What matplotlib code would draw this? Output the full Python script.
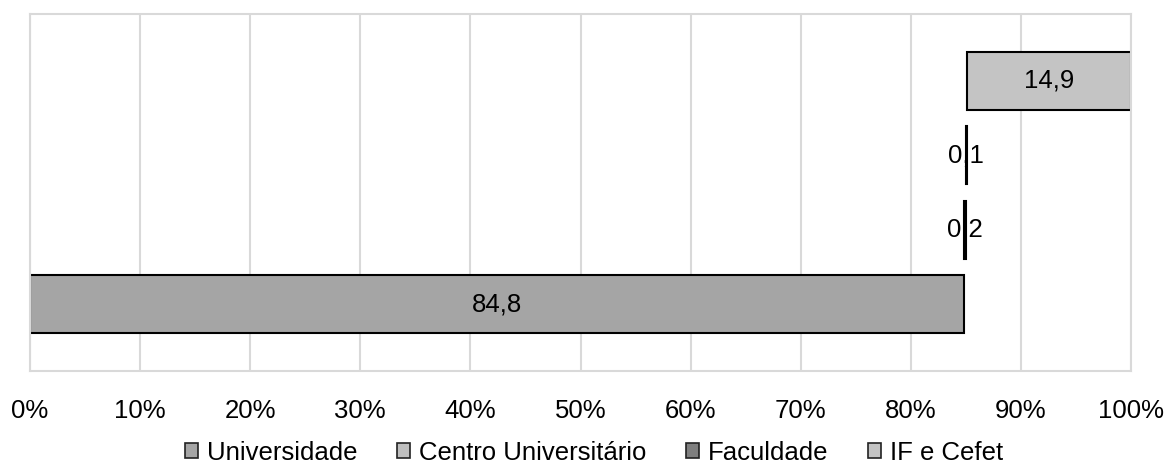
import matplotlib.pyplot as plt
from matplotlib.patches import Patch

plt.rcParams['font.family'] = ['Liberation Sans', 'DejaVu Sans']

categorias = ['Universidade', 'Centro Universitário', 'Faculdade', 'IF e Cefet']
valores = [84.8, 0.2, 0.1, 14.9]
rotulos = ['84,8', '0,2', '0,1', '14,9']
cores = ['#a5a5a5', '#bfbfbf', '#7f7f7f', '#c4c4c4']

fig = plt.figure(figsize=(11.67, 4.68), dpi=100)
ax = fig.add_axes([30 / 1167, 97 / 468, 1101 / 1167, 357 / 468])

inicio = 0
for i, (cat, v, r, c) in enumerate(zip(categorias, valores, rotulos, cores)):
    # barras finas ficam por cima do rótulo (esconde a vírgula, como no original)
    z = 4 if v < 1 else 2
    ax.barh(i, v, left=inicio, height=0.78, color=c, edgecolor='black',
            linewidth=1.5, zorder=z)
    ax.text(inicio + v / 2, i, r, ha='center', va='center', fontsize=18.5,
            zorder=3)
    inicio += v

ax.set_xlim(0, 100)
ax.set_ylim(-0.9, 3.9)
ax.set_xticks(range(0, 101, 10))
ax.set_xticklabels([f'{t}%' for t in range(0, 101, 10)], fontsize=18.5)
ax.set_yticks([])
ax.tick_params(axis='x', length=0, pad=20)
ax.grid(axis='x', color='#d9d9d9', linewidth=1.5, zorder=0)
ax.set_axisbelow(True)
for s in ax.spines.values():
    s.set_color('#d9d9d9')
    s.set_linewidth(1.5)

handles = [Patch(facecolor=c, edgecolor='#222222', linewidth=1.2) for c in cores]
fig.legend(handles, categorias, loc='center', bbox_to_anchor=(0.509, 0.033),
           ncol=4, frameon=False, fontsize=18.5, handlelength=0.5,
           handleheight=0.5, handletextpad=0.35, columnspacing=1.55,
           borderpad=0)

fig.savefig('out.png', dpi=100)
